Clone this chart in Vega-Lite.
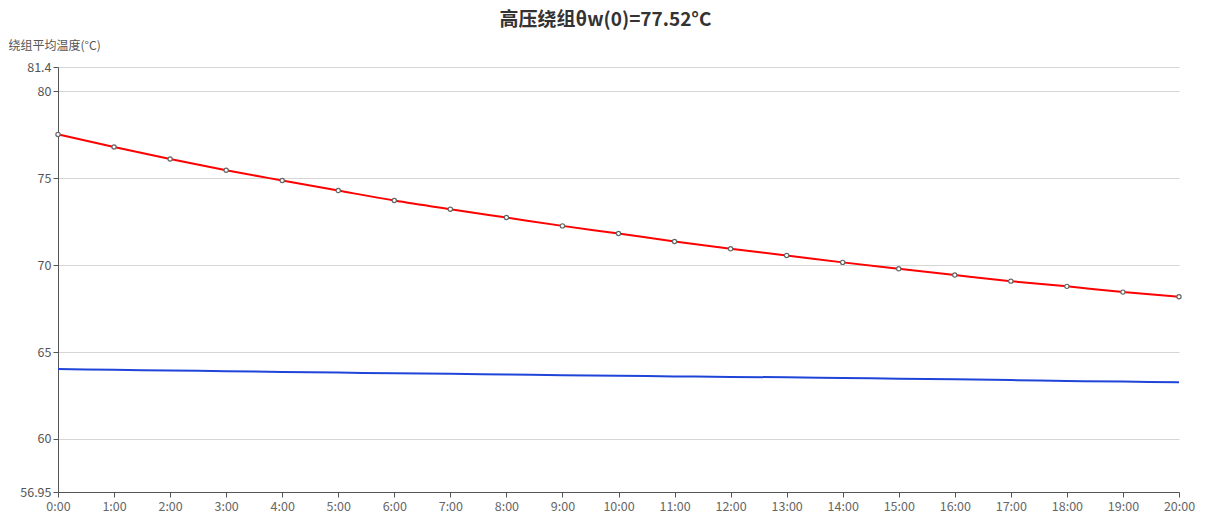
{
  "$schema": "https://vega.github.io/schema/vega-lite/v6.json",
  "autosize": "none",
  "width": 1121,
  "height": 425,
  "padding": {"left": 58, "top": 67, "right": 31, "bottom": 28},
  "background": "white",
  "config": {
    "font": "Noto Sans CJK SC",
    "view": {"stroke": null}
  },
  "title": {
    "text": "高压绕组θw(0)=77.52°C",
    "fontSize": 19,
    "fontWeight": "bold",
    "color": "#333333",
    "anchor": "middle",
    "dx": -13,
    "offset": 9,
    "font": "Noto Sans CJK SC"
  },
  "datasets": {
    "temps": [
      {"hour": 0, "series": "高压绕组", "temp": 77.52},
      {"hour": 1, "series": "高压绕组", "temp": 76.80},
      {"hour": 2, "series": "高压绕组", "temp": 76.11},
      {"hour": 3, "series": "高压绕组", "temp": 75.46},
      {"hour": 4, "series": "高压绕组", "temp": 74.87},
      {"hour": 5, "series": "高压绕组", "temp": 74.29},
      {"hour": 6, "series": "高压绕组", "temp": 73.72},
      {"hour": 7, "series": "高压绕组", "temp": 73.22},
      {"hour": 8, "series": "高压绕组", "temp": 72.74},
      {"hour": 9, "series": "高压绕组", "temp": 72.26},
      {"hour": 10, "series": "高压绕组", "temp": 71.82},
      {"hour": 11, "series": "高压绕组", "temp": 71.36},
      {"hour": 12, "series": "高压绕组", "temp": 70.94},
      {"hour": 13, "series": "高压绕组", "temp": 70.56},
      {"hour": 14, "series": "高压绕组", "temp": 70.16},
      {"hour": 15, "series": "高压绕组", "temp": 69.79},
      {"hour": 16, "series": "高压绕组", "temp": 69.43},
      {"hour": 17, "series": "高压绕组", "temp": 69.08},
      {"hour": 18, "series": "高压绕组", "temp": 68.78},
      {"hour": 19, "series": "高压绕组", "temp": 68.45},
      {"hour": 20, "series": "高压绕组", "temp": 68.18},
      {"hour": 0, "series": "参考", "temp": 64.02},
      {"hour": 1, "series": "参考", "temp": 63.98},
      {"hour": 2, "series": "参考", "temp": 63.94},
      {"hour": 3, "series": "参考", "temp": 63.90},
      {"hour": 4, "series": "参考", "temp": 63.86},
      {"hour": 5, "series": "参考", "temp": 63.82},
      {"hour": 6, "series": "参考", "temp": 63.78},
      {"hour": 7, "series": "参考", "temp": 63.75},
      {"hour": 8, "series": "参考", "temp": 63.71},
      {"hour": 9, "series": "参考", "temp": 63.67},
      {"hour": 10, "series": "参考", "temp": 63.64},
      {"hour": 11, "series": "参考", "temp": 63.60},
      {"hour": 12, "series": "参考", "temp": 63.57},
      {"hour": 13, "series": "参考", "temp": 63.55},
      {"hour": 14, "series": "参考", "temp": 63.51},
      {"hour": 15, "series": "参考", "temp": 63.47},
      {"hour": 16, "series": "参考", "temp": 63.43},
      {"hour": 17, "series": "参考", "temp": 63.39},
      {"hour": 18, "series": "参考", "temp": 63.34},
      {"hour": 19, "series": "参考", "temp": 63.30},
      {"hour": 20, "series": "参考", "temp": 63.26}
    ]
  },
  "data": {"name": "temps"},
  "encoding": {
    "x": {
      "field": "hour",
      "type": "quantitative",
      "scale": {"domain": [0, 20], "nice": false, "zero": false},
      "axis": {
        "title": null,
        "values": [0,1,2,3,4,5,6,7,8,9,10,11,12,13,14,15,16,17,18,19,20],
        "labelExpr": "datum.value + ':00'",
        "labelFlush": false,
        "labelOverlap": false,
        "grid": false,
        "domainColor": "#555555",
        "tickColor": "#555555",
        "tickSize": 5,
        "labelColor": "#666666",
        "labelFontSize": 12.5,
        "labelPadding": 3,
        "labelFont": "Noto Sans CJK SC"
      }
    },
    "y": {
      "field": "temp",
      "type": "quantitative",
      "scale": {"domain": [56.95, 81.4], "nice": false, "zero": false},
      "axis": {
        "title": "绕组平均温度(°C)",
        "titleAngle": 0,
        "titleX": -50,
        "titleY": -22,
        "titleAlign": "left",
        "titleBaseline": "middle",
        "titleFontSize": 12,
        "titleFontWeight": "normal",
        "titleColor": "#555555",
        "values": [56.95, 60, 65, 70, 75, 80, 81.4],
        "labelExpr": "datum.value",
        "labelFlush": false,
        "labelOverlap": false,
        "grid": true,
        "gridColor": "#d6d6d6",
        "domainColor": "#555555",
        "tickColor": "#555555",
        "tickSize": 5,
        "labelColor": "#555555",
        "labelFontSize": 12.5,
        "labelPadding": 2,
        "labelFont": "Noto Sans CJK SC"
      }
    }
  },
  "layer": [
    {
      "mark": {"type": "line", "strokeWidth": 2, "interpolate": "monotone"},
      "encoding": {
        "color": {
          "field": "series",
          "type": "nominal",
          "scale": {"domain": ["高压绕组", "参考"], "range": ["#ff0000", "#1f45d8"]},
          "legend": null
        }
      }
    },
    {
      "transform": [{"filter": "datum.series === '高压绕组'"}],
      "mark": {"type": "point", "filled": true, "fill": "white", "stroke": "#666666", "strokeWidth": 1.2, "size": 18, "opacity": 1}
    }
  ]
}
